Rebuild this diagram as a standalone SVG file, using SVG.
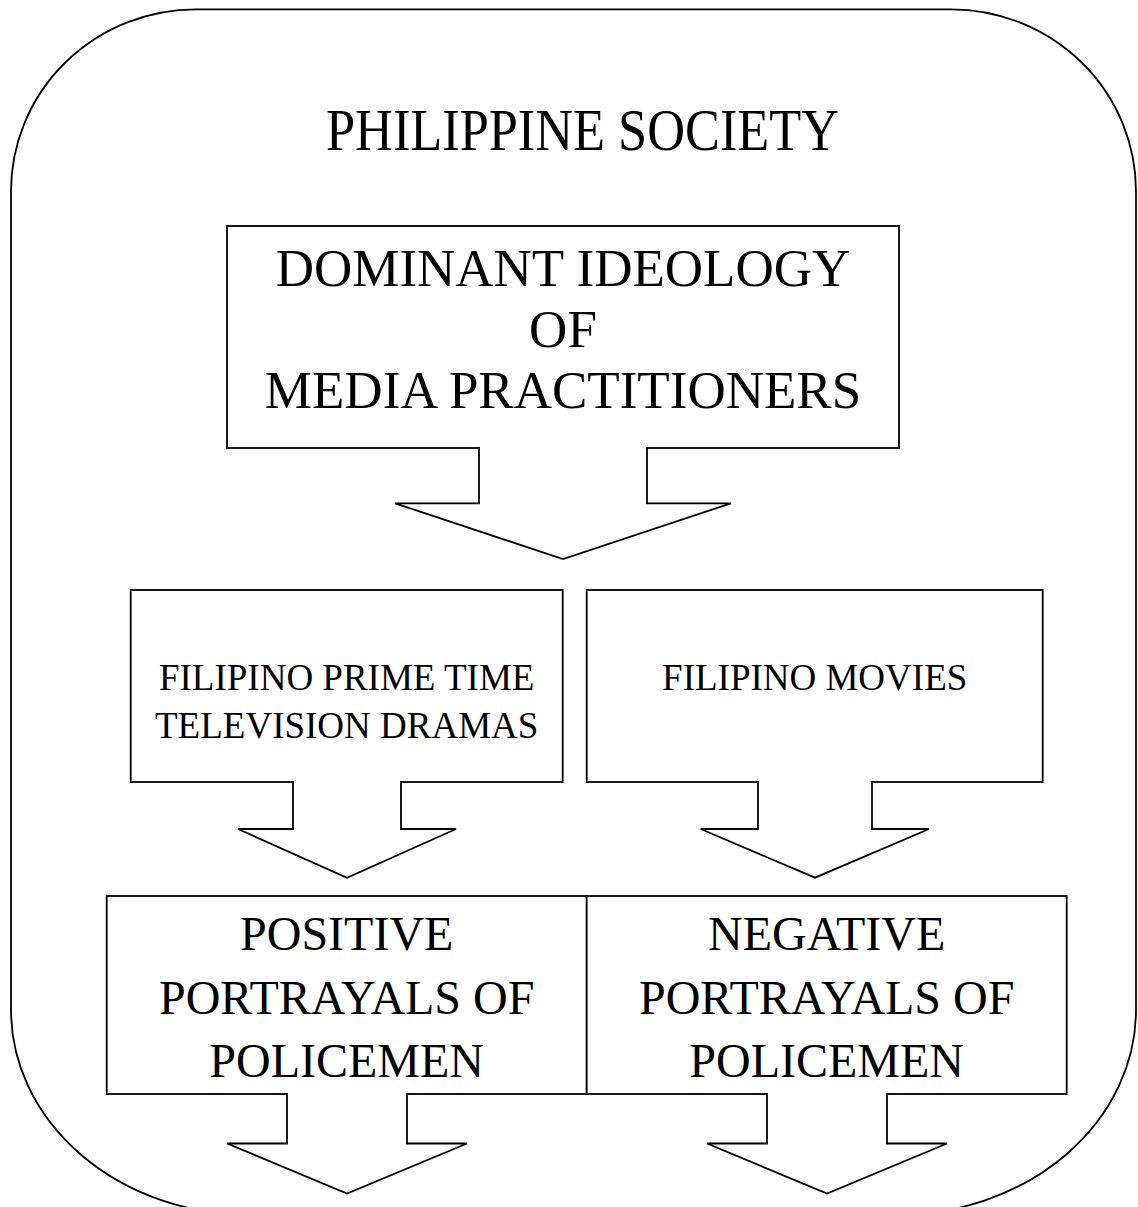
<svg xmlns="http://www.w3.org/2000/svg" width="1138" height="1207" viewBox="0 0 1138 1207">
<style>
.ln{fill:none;stroke:#000;stroke-width:1.8;stroke-linejoin:miter}
.bx{fill:#fff;stroke:#000;stroke-width:1.8}
.ar{fill:#fff;stroke:#000;stroke-width:1.8;stroke-linejoin:miter}
text{font-family:"Liberation Serif","Times New Roman",serif;fill:#000;text-anchor:middle}
.t1{font-size:53px}
.t2{font-size:37px}
.t3{font-size:48px}
</style>
<rect width="1138" height="1207" fill="#fff"/>
<g id="society">
<path class="ln" d="M 196,9.3 H 951 A 185 182 0 0 1 1136,191 V 1010 A 240 205 0 0 1 896,1215 H 251 A 240 205 0 0 1 11,1010 V 191 A 185 182 0 0 1 196,9.3 Z"/>
<text x="582.5" y="150" style="font-size:60px" textLength="513" lengthAdjust="spacingAndGlyphs">PHILIPPINE SOCIETY</text>
</g>
<g id="dominant">
<rect class="bx" x="227" y="226" width="672" height="222"/>
<text class="t1" x="563" y="286">DOMINANT IDEOLOGY</text>
<text class="t1" x="563" y="347">OF</text>
<text class="t1" x="563" y="408">MEDIA PRACTITIONERS</text>
</g>
<g id="tvdramas">
<rect class="bx" x="130.7" y="590" width="432" height="192"/>
<text class="t2" x="346.7" y="690">FILIPINO PRIME TIME</text>
<text class="t2" x="346.7" y="738">TELEVISION DRAMAS</text>
</g>
<g id="movies">
<rect class="bx" x="586.7" y="590" width="456" height="192"/>
<text class="t2" x="814.7" y="690">FILIPINO MOVIES</text>
</g>
<g id="positive">
<rect class="bx" x="106.7" y="896" width="480" height="198"/>
<text class="t3" x="346.7" y="950">POSITIVE</text>
<text class="t3" x="346.7" y="1014">PORTRAYALS OF</text>
<text class="t3" x="346.7" y="1077">POLICEMEN</text>
</g>
<g id="negative">
<rect class="bx" x="586.7" y="896" width="480" height="198"/>
<text class="t3" x="826.7" y="950">NEGATIVE</text>
<text class="t3" x="826.7" y="1014">PORTRAYALS OF</text>
<text class="t3" x="826.7" y="1077">POLICEMEN</text>
</g>
<g id="connectors">
<path class="ar" d="M 479,447 V 503.3 H 395 L 563,559 L 731,503.3 H 647 V 447"/>
<path class="ar" d="M 293,781 V 829 H 238 L 347,877.7 L 456,829 H 401 V 781"/>
<path class="ar" d="M 758,781 V 829 H 700.7 L 815,877.7 L 929,829 H 872 V 781"/>
<path class="ar" d="M 287,1093 V 1143.5 H 227 L 347,1193.5 L 467,1143.5 H 407 V 1093"/>
<path class="ar" d="M 767,1093 V 1143.5 H 707 L 827,1193.5 L 947,1143.5 H 887 V 1093"/>
</g>
</svg>
